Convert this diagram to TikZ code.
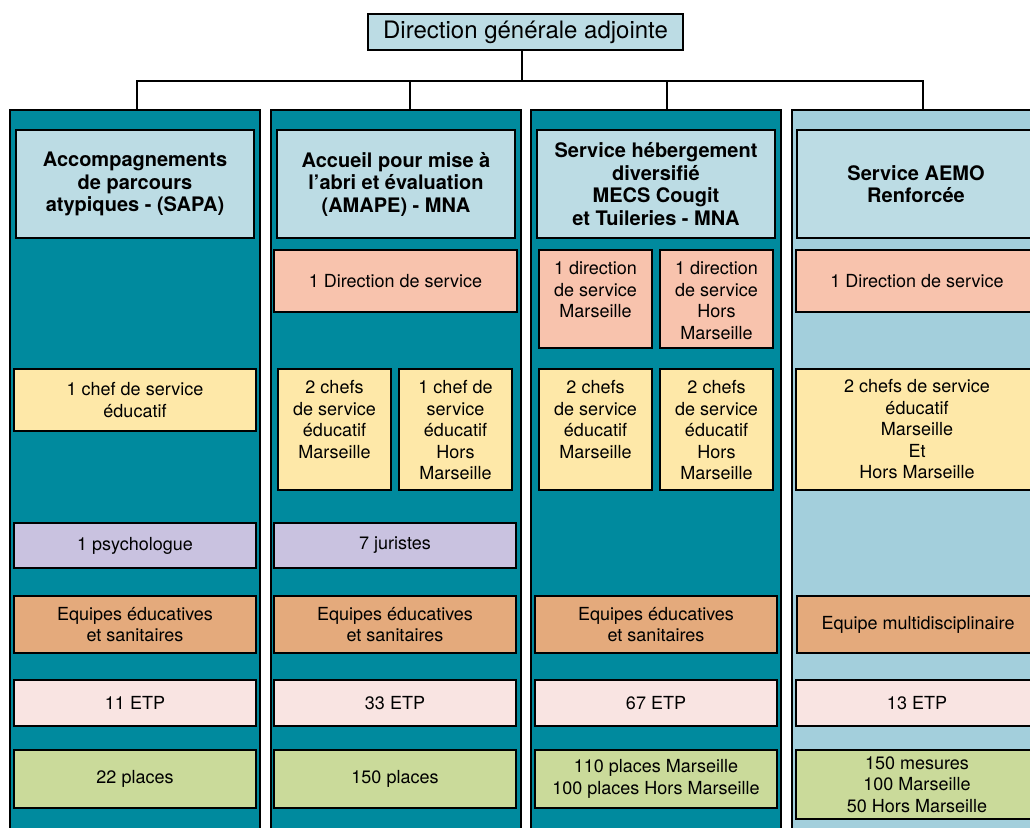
\documentclass[tikz,border=0pt]{standalone}
\usepackage{fontspec}
\setmainfont{TeX Gyre Heros}
\usetikzlibrary{calc}
\definecolor{teal}{HTML}{008A9E}
\definecolor{panelblue}{HTML}{A3CFDC}
\definecolor{headblue}{HTML}{BCDCE4}
\definecolor{dirpink}{HTML}{F8C3AD}
\definecolor{chefyellow}{HTML}{FEE8A8}
\definecolor{psylav}{HTML}{C9C2E0}
\definecolor{eqorange}{HTML}{E4AA7C}
\definecolor{etppink}{HTML}{F9E4E2}
\definecolor{placegreen}{HTML}{CADA9A}
\begin{document}
\begin{tikzpicture}[x=1pt,y=-1pt,
  panel/.style={draw=black, line width=1.5pt, inner sep=0pt},
  cell/.style={draw=black, line width=1.6pt, inner sep=0pt, align=center,
    font=\fontsize{18}{21.5}\selectfont},
  head/.style={cell, fill=headblue, font=\bfseries\fontsize{20}{22.5}\selectfont},
  toptext/.style={anchor=north, yshift=-12pt, inner sep=0pt, align=center,
    font=\fontsize{18}{21.5}\selectfont},
  conn/.style={draw=black, line width=1.3pt}]
\path[use as bounding box] (0,0) rectangle (1030,827);
\clip (0,0) rectangle (1030,827);

% title
\node[cell, fill=headblue, minimum width=315, minimum height=36,
  font=\fontsize{24}{28}\selectfont] (dga) at (525.5,32) {Direction générale adjointe};

% panels
\node[panel, fill=teal, minimum width=250, minimum height=730] (p1) at (135,475) {};
\node[panel, fill=teal, minimum width=250, minimum height=730] (p2) at (396,475) {};
\node[panel, fill=teal, minimum width=250, minimum height=730] (p3) at (656,475) {};
\node[panel, fill=panelblue, minimum width=250, minimum height=730] (p4) at (917,475) {};

% connectors
\coordinate (bus) at (0,81);
\coordinate (d0) at ($(dga.south)+(-3.5,0)$);
\coordinate (t1) at ($(p1.north)+(2,0)$);
\coordinate (t2) at ($(p2.north)+(14,0)$);
\coordinate (t3) at ($(p3.north)+(11,0)$);
\coordinate (t4) at ($(p4.north)+(6,0)$);
\draw[conn] (d0) -- (d0 |- bus);
\draw[conn] (t1) -- (t1 |- bus) -- (t4 |- bus) -- (t4);
\draw[conn] (t2) -- (t2 |- bus);
\draw[conn] (t3) -- (t3 |- bus);

% headers
\node[head, minimum width=238, minimum height=108] (h1) at (135,184)
  {Accompagnements\\de parcours\\atypiques - (SAPA)};
\node[head, minimum width=238, minimum height=108] (h2) at (396,184)
  {Accueil pour mise à\\l’abri et évaluation\\(AMAPE) - MNA};
\node[head, minimum width=238, minimum height=108] (h3) at (656,184)
  {Service hébergement\\diversifié\\MECS Cougit\\et Tuileries - MNA};
\node[head, minimum width=238, minimum height=108] (h4) at (916,184)
  {Service AEMO\\Renforcée};

% direction row
\node[cell, fill=dirpink, minimum width=243, minimum height=62] (d2) at (395.5,281)
  {1 Direction de service};
\node[cell, fill=dirpink, minimum width=113, minimum height=98,
  label={[toptext]north:1 direction\\de service\\Marseille}] (d3a) at (595.5,299) {};
\node[cell, fill=dirpink, minimum width=113, minimum height=98,
  label={[toptext]north:1 direction\\de service\\Hors\\Marseille}] (d3b) at (716.5,299) {};
\node[cell, fill=dirpink, minimum width=242, minimum height=62] (d4) at (917,281)
  {1 Direction de service};

% chefs row
\node[cell, fill=chefyellow, minimum width=242, minimum height=62] (c1) at (135,400)
  {1 chef de service\\éducatif};
\node[cell, fill=chefyellow, minimum width=113, minimum height=121,
  label={[toptext]north:2 chefs\\de service\\éducatif\\Marseille}] (c2a) at (334.5,429.5) {};
\node[cell, fill=chefyellow, minimum width=113, minimum height=121,
  label={[toptext]north:1 chef de\\service\\éducatif\\Hors\\Marseille}] (c2b) at (455.5,429.5) {};
\node[cell, fill=chefyellow, minimum width=113, minimum height=121,
  label={[toptext]north:2 chefs\\de service\\éducatif\\Marseille}] (c3a) at (595.5,429.5) {};
\node[cell, fill=chefyellow, minimum width=113, minimum height=121,
  label={[toptext]north:2 chefs\\de service\\éducatif\\Hors\\Marseille}] (c3b) at (716.5,429.5) {};
\node[cell, fill=chefyellow, minimum width=242, minimum height=121] (c4) at (917,429.5)
  {2 chefs de service\\éducatif\\Marseille\\Et\\Hors Marseille};

% psych row
\node[cell, fill=psylav, minimum width=242, minimum height=45] (s1) at (135,545.5)
  {1 psychologue};
\node[cell, fill=psylav, minimum width=242, minimum height=45] (s2) at (395,545.5)
  {7 juristes};

% equipes row
\node[cell, fill=eqorange, minimum width=242, minimum height=57] (e1) at (135,624.5)
  {Equipes éducatives\\et sanitaires};
\node[cell, fill=eqorange, minimum width=242, minimum height=57] (e2) at (395,624.5)
  {Equipes éducatives\\et sanitaires};
\node[cell, fill=eqorange, minimum width=242, minimum height=57] (e3) at (656,624.5)
  {Equipes éducatives\\et sanitaires};
\node[cell, fill=eqorange, minimum width=242, minimum height=57] (e4) at (918,624.5)
  {Equipe multidisciplinaire};

% ETP row
\node[cell, fill=etppink, minimum width=242, minimum height=46] (et1) at (135,703) {11 ETP};
\node[cell, fill=etppink, minimum width=242, minimum height=46] (et2) at (395,703) {33 ETP};
\node[cell, fill=etppink, minimum width=242, minimum height=46] (et3) at (656,703) {67 ETP};
\node[cell, fill=etppink, minimum width=242, minimum height=46] (et4) at (917,703) {13 ETP};

% places row
\node[cell, fill=placegreen, minimum width=242, minimum height=58] (g1) at (135,779) {22 places};
\node[cell, fill=placegreen, minimum width=242, minimum height=58] (g2) at (395,779) {150 places};
\node[cell, fill=placegreen, minimum width=242, minimum height=58] (g3) at (656,779)
  {110 places Marseille\\100 places Hors Marseille};
\node[cell, fill=placegreen, minimum width=242, minimum height=69] (g4) at (917,784.5)
  {150 mesures\\100 Marseille\\50 Hors Marseille};
\end{tikzpicture}
\end{document}
